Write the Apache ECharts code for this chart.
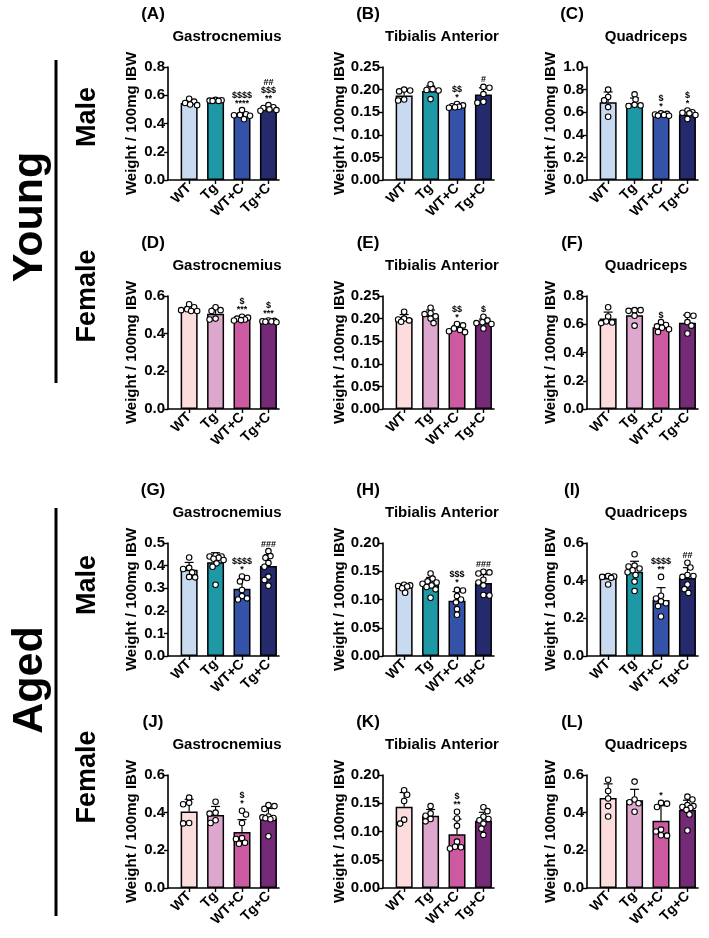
<!DOCTYPE html>
<html><head><meta charset="utf-8">
<script src="https://cdn.jsdelivr.net/npm/echarts@6/dist/echarts.min.js"></script>
<style>html,body{margin:0;padding:0;background:#fff}#c{width:709px;height:938px}</style>
</head><body><div id="c"></div><script>
// ---------- DATA ----------
const categories = ['WT', 'Tg', 'WT+C', 'Tg+C'];
const panelLetters = ['(A)','(B)','(C)','(D)','(E)','(F)','(G)','(H)','(I)','(J)','(K)','(L)'];
const muscles = ['Gastrocnemius', 'Tibialis Anterior', 'Quadriceps'];
const ageLabels = ['Young', 'Aged'];
const sexLabels = ['Male', 'Female', 'Male', 'Female'];
const yAxisTitle = 'Weight / 100mg IBW';
const yMax  = [0.8, 0.25, 1.0, 0.6, 0.25, 0.8, 0.5, 0.20, 0.6, 0.6, 0.20, 0.6];
const yStep = [0.2, 0.05, 0.2, 0.2, 0.05, 0.2, 0.1, 0.05, 0.2, 0.2, 0.05, 0.2];
const yDec  = [1, 2, 1, 1, 2, 1, 1, 2, 1, 1, 2, 1];

// A: Young male gastrocnemius
const meansA = [0.545, 0.563, 0.458, 0.503];
const sdA = [0.017, 0.005, 0.018, 0.015];
const ptsA = [[0.575,0.555,0.545,0.535,0.530],[0.567,0.565,0.562,0.560,0.560],[0.495,0.465,0.460,0.458,0.455,0.430],[0.530,0.515,0.510,0.500,0.495,0.490]];
const marksA = [[],[],['$$$$','****'],['##','$$$','**']];
// B: Young male tibialis anterior
const meansB = [0.187, 0.197, 0.163, 0.189];
const sdB = [0.011, 0.011, 0.003, 0.015];
const ptsB = [[0.200,0.198,0.196,0.178,0.176],[0.212,0.201,0.199,0.198,0.179],[0.168,0.165,0.163,0.162,0.161,0.160],[0.206,0.204,0.190,0.173,0.171]];
const marksB = [[],[],['$$','*'],['#']];
// C: Young male quadriceps
const meansC = [0.689, 0.680, 0.578, 0.580];
const sdC = [0.090, 0.045, 0.010, 0.025];
const ptsC = [[0.800,0.735,0.705,0.645,0.560],[0.758,0.712,0.665,0.660,0.655],[0.590,0.585,0.580,0.575,0.570,0.568],[0.615,0.600,0.595,0.590,0.575,0.540]];
const marksC = [[],[],['$','*'],['$','*']];
// D: Young female gastrocnemius
const meansD = [0.531, 0.506, 0.479, 0.466];
const sdD = [0.013, 0.030, 0.008, 0.004];
const ptsD = [[0.556,0.540,0.530,0.525,0.520,0.520],[0.540,0.525,0.520,0.480,0.475],[0.490,0.485,0.480,0.475,0.472,0.470],[0.470,0.468,0.466,0.465,0.463,0.461]];
const marksD = [[],[],['$','***'],['$','***']];
// E: Young female tibialis anterior
const meansE = [0.200, 0.207, 0.178, 0.191];
const sdE = [0.009, 0.012, 0.007, 0.008];
const ptsE = [[0.215,0.200,0.198,0.196,0.193],[0.224,0.212,0.210,0.205,0.200,0.190],[0.188,0.185,0.178,0.175,0.172,0.170],[0.204,0.196,0.192,0.190,0.188,0.178]];
const marksE = [[],[],['$$','*'],['$']];
// F: Young female quadriceps
const meansF = [0.641, 0.664, 0.578, 0.610];
const sdF = [0.045, 0.045, 0.024, 0.055];
const ptsF = [[0.720,0.655,0.620,0.612,0.608],[0.700,0.700,0.695,0.660,0.590],[0.615,0.595,0.585,0.575,0.565,0.545],[0.665,0.660,0.615,0.590,0.535]];
const marksF = [[],[],['$'],[]];
// G: Aged male gastrocnemius
const meansG = [0.382, 0.415, 0.298, 0.398];
const sdG = [0.032, 0.042, 0.040, 0.050];
const ptsG = [[0.436,0.390,0.385,0.370,0.350,0.348],[0.445,0.440,0.440,0.435,0.430,0.425,0.410,0.395,0.315],[0.352,0.345,0.330,0.292,0.265,0.255,0.250],[0.464,0.442,0.435,0.412,0.395,0.351,0.336,0.311]];
const marksG = [[],[],['$$$$','*'],['###']];
// H: Aged male tibialis anterior
const meansH = [0.122, 0.127, 0.098, 0.129];
const sdH = [0.005, 0.012, 0.016, 0.015];
const ptsH = [[0.126,0.125,0.124,0.123,0.120,0.112],[0.146,0.137,0.132,0.130,0.128,0.125,0.122,0.118,0.103],[0.117,0.116,0.106,0.100,0.095,0.083,0.073],[0.149,0.148,0.146,0.135,0.130,0.125,0.108,0.107]];
const marksH = [[],[],['$$$','*'],['###']];
// I: Aged male quadriceps
const meansI = [0.414, 0.448, 0.298, 0.414];
const sdI = [0.018, 0.055, 0.065, 0.055];
const ptsI = [[0.425,0.422,0.420,0.415,0.380],[0.540,0.480,0.475,0.465,0.455,0.445,0.430,0.395,0.345],[0.420,0.320,0.305,0.290,0.280,0.265,0.210],[0.495,0.470,0.430,0.425,0.420,0.380,0.355,0.335]];
const marksI = [[],[],['$$$$','**'],['##']];
// J: Aged female gastrocnemius
const meansJ = [0.406, 0.388, 0.298, 0.372];
const sdJ = [0.065, 0.045, 0.065, 0.050];
const ptsJ = [[0.480,0.452,0.445,0.345,0.343],[0.458,0.400,0.395,0.360,0.345],[0.410,0.390,0.345,0.265,0.260,0.240,0.235],[0.440,0.435,0.420,0.380,0.375,0.372,0.370,0.365,0.275]];
const marksJ = [[],[],['$','*'],[]];
// K: Aged female tibialis anterior
const meansK = [0.144, 0.128, 0.095, 0.119];
const sdK = [0.025, 0.011, 0.027, 0.015];
const ptsK = [[0.173,0.165,0.154,0.121,0.114],[0.145,0.132,0.128,0.122,0.118],[0.135,0.123,0.110,0.082,0.073,0.072,0.070],[0.143,0.136,0.126,0.122,0.120,0.114,0.105,0.094]];
const marksK = [[],[],['$','**'],[]];
// L: Aged female quadriceps
const meansL = [0.478, 0.466, 0.357, 0.416];
const sdL = [0.075, 0.058, 0.080, 0.050];
const ptsL = [[0.575,0.515,0.475,0.435,0.380],[0.565,0.470,0.455,0.450,0.405],[0.452,0.448,0.430,0.310,0.300,0.280,0.278],[0.485,0.470,0.440,0.435,0.430,0.425,0.415,0.390,0.305]];
const marksL = [[],[],['*'],[]];

const maleColors = ['#c8daf0', '#1f98a6', '#3452a8', '#242a6c'];
const femaleColors = ['#fcdcdd', '#dea7ce', '#cc5aa0', '#752a78'];

// ---------- BUILD ----------
const panels = [
  [meansA, sdA, ptsA, marksA], [meansB, sdB, ptsB, marksB], [meansC, sdC, ptsC, marksC],
  [meansD, sdD, ptsD, marksD], [meansE, sdE, ptsE, marksE], [meansF, sdF, ptsF, marksF],
  [meansG, sdG, ptsG, marksG], [meansH, sdH, ptsH, marksH], [meansI, sdI, ptsI, marksI],
  [meansJ, sdJ, ptsJ, marksJ], [meansK, sdK, ptsK, marksK], [meansL, sdL, ptsL, marksL]
];
const FF = '"Liberation Sans", Arial, Helvetica, sans-serif';
const colX = [168, 383, 587];
const rowTop = [67, 296, 543, 775];
const GW = 111, GH = 113, XMIN = -0.8, XMAX = 3.4;

// deterministic beeswarm offsets (pixels -> axis units), kept inside the bar width
function swarm(vals, pxY, pxX) {
  const order = vals.map((v, j) => j).sort((a, b) => vals[b] - vals[a]);
  const placed = [], out = new Array(vals.length), D = 5.2, MAXO = 8;
  order.forEach((j, n) => {
    const v = vals[j];
    let best = 0, bestScore = -1;
    for (let s = 0; s <= MAXO; s++) {
      const cands = s === 0 ? [0] : (n % 2 ? [s, -s] : [-s, s]);
      let done = false;
      for (const o of cands) {
        const md = placed.length ? Math.min(...placed.map(p => Math.hypot(o - p.o, (v - p.v) * pxY))) : 99;
        if (md >= D) { best = o; done = true; break; }
        if (md > bestScore) { bestScore = md; best = o; }
      }
      if (done) break;
    }
    placed.push({ o: best, v: v });
    out[j] = best / pxX;
  });
  return out;
}

const option = { animation: false, backgroundColor: '#fff', grid: [], xAxis: [], yAxis: [], series: [], graphic: [] };

panels.forEach((p, i) => {
  const [means, sd, pts, marks] = p;
  const r = Math.floor(i / 3), c = i % 3;
  const colors = (r % 2 === 0) ? maleColors : femaleColors;
  option.grid.push({ left: colX[c], top: rowTop[r], width: GW, height: GH });
  option.xAxis.push({
    type: 'value', gridIndex: i, min: XMIN, max: XMAX, splitLine: { show: false },
    axisLine: { show: true, onZero: false, lineStyle: { color: '#000', width: 1.6 } },
    axisTick: { show: true, customValues: [0, 1, 2, 3], length: 4, lineStyle: { color: '#000', width: 1.4 } },
    axisLabel: { show: true, customValues: [0, 1, 2, 3], rotate: 45, margin: 6,
      formatter: v => categories[Math.round(v)], color: '#000', fontWeight: 'bold', fontSize: 14, fontFamily: FF }
  });
  option.yAxis.push({
    type: 'value', gridIndex: i, min: 0, max: yMax[i], interval: yStep[i], splitLine: { show: false },
    name: yAxisTitle, nameLocation: 'middle', nameGap: 29,
    nameTextStyle: { color: '#000', fontWeight: 'bold', fontSize: 15, fontFamily: FF },
    axisLine: { show: true, onZero: false, lineStyle: { color: '#000', width: 1.6 } },
    axisTick: { show: true, length: 4, lineStyle: { color: '#000', width: 1.4 } },
    axisLabel: { color: '#000', fontWeight: 'bold', fontSize: 15, fontFamily: FF, margin: 3,
      formatter: v => v.toFixed(yDec[i]) }
  });
  option.series.push({
    type: 'bar', xAxisIndex: i, yAxisIndex: i, barWidth: 17, z: 2,
    itemStyle: { borderColor: '#000', borderWidth: 1.5 },
    data: means.map((m, k) => ({ value: [k, m], itemStyle: { color: colors[k] } }))
  });
  option.series.push({
    type: 'custom', xAxisIndex: i, yAxisIndex: i, z: 3,
    data: means.map((m, k) => [k, m, sd[k], Math.max(...pts[k])]),
    renderItem: function (params, api) {
      const x = api.value(0), m = api.value(1), s = api.value(2), mx = api.value(3);
      const top = api.coord([x, m + s]);
      const base = api.coord([x, m]);
      const hi = api.coord([x, Math.max(m + s, mx)]);
      const ch = [
        { type: 'line', shape: { x1: top[0], y1: base[1], x2: top[0], y2: top[1] }, style: { stroke: '#000', lineWidth: 1.2 } },
        { type: 'line', shape: { x1: top[0] - 4.5, y1: top[1], x2: top[0] + 4.5, y2: top[1] }, style: { stroke: '#000', lineWidth: 1.2 } }
      ];
      const lines = marks[params.dataIndex];
      if (lines.length) {
        ch.push({ type: 'text', x: top[0], y: Math.min(hi[1], top[1]) - 3, z2: 10,
          style: { text: lines.join('\n'), fill: '#000', font: 'bold 9px ' + FF, align: 'center', verticalAlign: 'bottom', lineHeight: 8 } });
      }
      return { type: 'group', children: ch };
    }
  });
  const sdata = [];
  const pxY = GH / yMax[i], pxX = GW / (XMAX - XMIN);
  pts.forEach((vals, k) => {
    const offs = swarm(vals, pxY, pxX);
    vals.forEach((v, j) => sdata.push([k + offs[j], v]));
  });
  option.series.push({
    type: 'scatter', xAxisIndex: i, yAxisIndex: i, z: 4, symbol: 'circle', symbolSize: 5.5,
    itemStyle: { color: '#fff', borderColor: '#000', borderWidth: 1.1, opacity: 1 },
    data: sdata
  });
  option.graphic.push({ type: 'text', x: colX[c] - 15, y: rowTop[r] - 53,
    style: { text: panelLetters[i], font: 'bold 17px ' + FF, fill: '#000', align: 'center', verticalAlign: 'middle' } });
  option.graphic.push({ type: 'text', x: colX[c] + 59, y: rowTop[r] - 30,
    style: { text: muscles[c], font: 'bold 15px ' + FF, fill: '#000', align: 'center', verticalAlign: 'middle' } });
});

const ageY = [217, 680];
ageLabels.forEach((t, k) => option.graphic.push({ type: 'text', x: 30, y: ageY[k], rotation: Math.PI / 2,
  style: { text: t, font: 'bold 43px ' + FF, fill: '#000', align: 'center', verticalAlign: 'middle' } }));
const sexY = [117, 296, 585, 777];
sexLabels.forEach((t, k) => option.graphic.push({ type: 'text', x: 88, y: sexY[k], rotation: Math.PI / 2,
  style: { text: t, font: 'bold 27px ' + FF, fill: '#000', align: 'center', verticalAlign: 'middle' } }));
[[60, 383], [508, 916]].forEach(s => option.graphic.push({ type: 'line',
  shape: { x1: 56, y1: s[0], x2: 56, y2: s[1] }, style: { stroke: '#000', lineWidth: 3 } }));

const chart = echarts.init(document.getElementById('c'), null, { renderer: 'canvas' });
chart.setOption(option);
</script></body></html>
